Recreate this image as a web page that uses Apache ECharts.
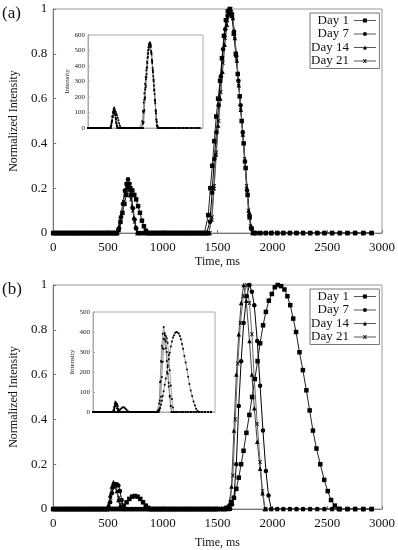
<!DOCTYPE html>
<html><head><meta charset="utf-8">
<script src="https://cdn.jsdelivr.net/npm/echarts@6/dist/echarts.min.js"></script>
<style>html,body{margin:0;padding:0;background:#fff}#c{width:398px;height:550px}</style>
</head><body><div id="c"></div>
<script>
const seriesNames = ['Day 1', 'Day 7', 'Day 14', 'Day 21'];
const xTicks = [0, 500, 1000, 1500, 2000, 2500, 3000];
// sampling times of the zero baseline (ms)
const baseTimes = [0,20,40,60,80,100,120,140,160,180,200,220,240,260,280,300,320,340,360,380,400,420,440,460,480,500,520,540,560,580,600,620,640,660,680,700,720,740,760,780,800,820,840,860,880,900,920,940,960,980,1000,1020,1040,1060,1080,1100,1120,1140,1160,1180,1200,1220,1240,1260,1280,1300,1320,1340,1360,1380,1400,1420,1440,1460,1480,1500,1535,1570,1605,1640,1680,1720,1760,1800,1845,1890,1940,1990,2045,2100,2160,2220,2280,2345,2410,2475,2545,2615,2685,2755,2830,2905];

// Panel (a) peaks [time ms, normalized intensity]
const aDay1Small = [[575,0],[596,0.013],[614,0.05],[632,0.09],[650,0.13],[668,0.17],[686,0.2],[704,0.2],[722,0.19],[740,0.17],[757,0.15],[775,0.12],[792,0.09],[810,0.055],[828,0.03],[846,0.01],[862,0]];
const aDay7Small = [[582,0],[600,0.02],[618,0.07],[636,0.13],[654,0.19],[668,0.22],[683,0.24],[698,0.22],[713,0.17],[728,0.11],[743,0.06],[758,0.02],[772,0]];
const aDay14Small = [[585,0],[603,0.03],[620,0.08],[638,0.14],[655,0.19],[672,0.22],[688,0.21],[704,0.17],[720,0.12],[736,0.07],[752,0.03],[768,0]];
const aDay21Small = [[588,0],[606,0.03],[624,0.08],[642,0.14],[660,0.18],[678,0.205],[694,0.19],[710,0.15],[726,0.1],[742,0.05],[758,0.02],[775,0]];
const aDay1Main = [[1395,0],[1415,0.08],[1434,0.2],[1452,0.3],[1470,0.41],[1488,0.52],[1505,0.6],[1523,0.68],[1540,0.78],[1558,0.88],[1576,0.95],[1594,0.99],[1612,1],[1630,0.97],[1648,0.89],[1666,0.8],[1684,0.71],[1702,0.61],[1720,0.5],[1738,0.4],[1756,0.29],[1774,0.17],[1792,0.07],[1810,0.02],[1825,0]];
const aDay7Main = [[1410,0],[1430,0.05],[1450,0.18],[1470,0.33],[1490,0.45],[1510,0.57],[1530,0.7],[1550,0.82],[1570,0.91],[1590,0.97],[1610,1],[1630,0.98],[1650,0.9],[1670,0.79],[1690,0.68],[1710,0.57],[1730,0.45],[1750,0.32],[1770,0.19],[1790,0.08],[1810,0.02],[1825,0]];
const aDay14Main = [[1425,0],[1445,0.06],[1465,0.2],[1485,0.35],[1505,0.48],[1525,0.6],[1545,0.72],[1565,0.84],[1585,0.93],[1605,0.98],[1622,1],[1640,0.96],[1658,0.87],[1676,0.77],[1694,0.66],[1712,0.55],[1730,0.44],[1748,0.32],[1766,0.2],[1784,0.1],[1802,0.03],[1820,0]];
const aDay21Main = [[1430,0],[1450,0.07],[1470,0.21],[1490,0.36],[1510,0.5],[1530,0.63],[1550,0.76],[1570,0.87],[1590,0.95],[1608,0.99],[1620,1],[1638,0.97],[1656,0.88],[1674,0.78],[1692,0.67],[1710,0.56],[1728,0.45],[1746,0.33],[1764,0.21],[1782,0.1],[1800,0.03],[1818,0]];
const aPeakIntensity = [548, 552, 545, 550];

// Panel (b) peaks [time ms, normalized intensity]
const bDay1Small = [[600,0],[620,0.005],[645,0.015],[670,0.03],[695,0.045],[720,0.055],[745,0.058],[770,0.055],[795,0.045],[820,0.03],[845,0.015],[865,0.005],[885,0]];
const bDay7Small = [[505,0],[520,0.03],[535,0.07],[550,0.1],[565,0.11],[580,0.11],[595,0.105],[610,0.08],[625,0.04],[640,0.01],[652,0]];
const bDay14Small = [[490,0],[505,0.02],[520,0.06],[535,0.1],[550,0.12],[565,0.11],[580,0.08],[595,0.04],[610,0.01],[622,0]];
const bDay21Small = [[495,0],[510,0.02],[525,0.05],[540,0.08],[555,0.1],[570,0.1],[585,0.08],[600,0.05],[615,0.02],[630,0]];
const bDay1Main = [[1555,0],[1580,0.005],[1604,0.01],[1627,0.03],[1649,0.05],[1671,0.09],[1693,0.14],[1715,0.2],[1737,0.26],[1763,0.34],[1790,0.42],[1815,0.5],[1840,0.58],[1865,0.66],[1888,0.74],[1915,0.82],[1941,0.88],[1968,0.93],[1995,0.96],[2022,0.99],[2048,1],[2080,0.995],[2110,0.98],[2137,0.95],[2163,0.91],[2190,0.85],[2216,0.79],[2247,0.7],[2278,0.62],[2310,0.53],[2340,0.44],[2370,0.35],[2402,0.27],[2437,0.2],[2473,0.13],[2505,0.08],[2535,0.04],[2570,0.015],[2606,0]];
const bDay7Main = [[1615,0],[1632,0.02],[1649,0.05],[1671,0.2],[1693,0.46],[1715,0.66],[1738,0.83],[1765,0.95],[1791,1],[1813,0.97],[1835,0.91],[1862,0.75],[1888,0.55],[1914,0.35],[1941,0.17],[1965,0.06],[1990,0]];
const bDay14Main = [[1585,0],[1604,0.02],[1627,0.1],[1649,0.35],[1671,0.6],[1693,0.78],[1715,0.92],[1738,1],[1762,0.93],[1791,0.75],[1813,0.6],[1835,0.45],[1862,0.3],[1888,0.18],[1910,0.07],[1930,0]];
const bDay21Main = [[1595,0],[1615,0.03],[1640,0.15],[1662,0.4],[1685,0.65],[1708,0.83],[1735,0.95],[1765,1],[1791,0.92],[1813,0.78],[1835,0.58],[1862,0.38],[1888,0.21],[1910,0.08],[1935,0]];
const bPeakIntensity = [400, 380, 425, 385];

const aInsetTicks = [0, 100, 200, 300, 400, 500, 600];
const bInsetTicks = [0, 100, 200, 300, 400, 500];

function build(peaks) {
  const ranges = peaks.map(p => [p[0][0], p[p.length - 1][0]]);
  const pts = baseTimes.filter(t => !ranges.some(r => t >= r[0] && t <= r[1])).map(t => [t, 0]);
  peaks.forEach(p => p.forEach(q => pts.push(q.slice())));
  pts.sort((u, v) => u[0] - v[0]);
  return pts;
}
function scale(data, k) { return data.map(d => [d[0], d[1] * k]); }

const aData = [build([aDay1Small, aDay1Main]), build([aDay7Small, aDay7Main]), build([aDay14Small, aDay14Main]), build([aDay21Small, aDay21Main])];
const bData = [build([bDay1Small, bDay1Main]), build([bDay7Small, bDay7Main]), build([bDay14Small, bDay14Main]), build([bDay21Small, bDay21Main])];

const FONT = '"Liberation Serif","DejaVu Serif",serif';
const xSym = 'path://M0,0L2.5,0L5,3.2L7.5,0L10,0L6.3,5L10,10L7.5,10L5,6.8L2.5,10L0,10L3.7,5Z';
const symbols = ['rect', 'circle', 'triangle', xSym];
const symSizes = [4.5, 4.5, 4.5, 4];
const lineColors = ['#222', '#000', '#444', '#666'];

const chart = echarts.init(document.getElementById('c'), null, {renderer: 'canvas'});

function mainGrid(top) {
  return {left: 48, top: top, width: 336, height: 224, show: true, borderColor: '#999', borderWidth: 1, backgroundColor: 'transparent'};
}
function insetGrid(left, top, w, h) {
  return {left: left, top: top, width: w, height: h, show: true, borderColor: '#aaa', borderWidth: 1, backgroundColor: '#fff'};
}
function mainX(gi, gap) {
  return {type: 'value', gridIndex: gi, min: 0, max: 3000, interval: 500,
    name: 'Time, ms', nameLocation: 'middle', nameGap: gap,
    nameTextStyle: {fontFamily: FONT, fontSize: 12, color: '#111'},
    axisLine: {lineStyle: {color: '#777', width: 1}},
    axisTick: {inside: true, length: 3, lineStyle: {color: '#777'}},
    axisLabel: {fontFamily: FONT, fontSize: 13, color: '#111', margin: 8, formatter: v => String(v)},
    splitLine: {show: false}};
}
function mainY(gi) {
  return {type: 'value', gridIndex: gi, min: 0, max: 1, interval: 0.2,
    name: 'Normalized Intensity', nameLocation: 'middle', nameGap: 32, nameRotate: 90,
    nameTextStyle: {fontFamily: FONT, fontSize: 12, color: '#111'},
    axisLine: {lineStyle: {color: '#777', width: 1}},
    axisTick: {inside: true, length: 3, lineStyle: {color: '#777'}},
    axisLabel: {fontFamily: FONT, fontSize: 13, color: '#111', margin: 6},
    splitLine: {show: false}};
}
function insetX(gi) {
  return {type: 'value', gridIndex: gi, min: 0, max: 3000, interval: 500,
    axisLine: {lineStyle: {color: '#aaa', width: 1}}, axisTick: {show: false},
    axisLabel: {show: false}, splitLine: {show: false}};
}
function insetY(gi, max, ticks) {
  return {type: 'value', gridIndex: gi, min: 0, max: max, interval: 100,
    name: 'Intensity', nameLocation: 'middle', nameGap: 17, nameRotate: 90,
    nameTextStyle: {fontFamily: FONT, fontSize: 7, color: '#222'},
    axisLine: {lineStyle: {color: '#aaa', width: 1}},
    axisTick: {inside: true, length: 2, lineStyle: {color: '#aaa'}},
    axisLabel: {fontFamily: FONT, fontSize: 7, color: '#222', margin: 3,
      customValues: ticks},
    splitLine: {show: false}};
}

const series = [];
seriesNames.forEach((n, i) => series.push({
  name: n, type: 'line', xAxisIndex: 0, yAxisIndex: 0, data: aData[i],
  symbol: symbols[i], symbolSize: symSizes[i], showAllSymbol: true,
  lineStyle: {color: lineColors[i], width: 1}, itemStyle: {color: '#000'},
  animation: false, z: 3}));
seriesNames.forEach((n, i) => series.push({
  name: n, type: 'line', xAxisIndex: 2, yAxisIndex: 2, data: bData[i],
  symbol: symbols[i], symbolSize: symSizes[i], showAllSymbol: true,
  lineStyle: {color: lineColors[i], width: 1}, itemStyle: {color: '#000'},
  animation: false, z: 3}));
seriesNames.forEach((n, i) => series.push({
  name: n, type: 'line', xAxisIndex: 1, yAxisIndex: 1, data: scale(aData[i], aPeakIntensity[i]),
  symbol: 'circle', symbolSize: 2, showAllSymbol: true,
  lineStyle: {color: '#888', width: 0.8}, itemStyle: {color: '#000'},
  animation: false, z: 5}));
seriesNames.forEach((n, i) => series.push({
  name: n, type: 'line', xAxisIndex: 3, yAxisIndex: 3, data: scale(bData[i], bPeakIntensity[i]),
  symbol: 'circle', symbolSize: 2, showAllSymbol: true,
  lineStyle: {color: '#888', width: 0.8}, itemStyle: {color: '#000'},
  animation: false, z: 5}));

function legend(top) {
  return {data: seriesNames, orient: 'vertical', align: 'right', left: 310, top: top,
    padding: [1, 3, 1, 1], itemGap: 0.5, itemWidth: 22, itemHeight: 5,
    lineStyle: {color: '#555', width: 1},
    borderColor: '#777', borderWidth: 1, backgroundColor: '#fff', selectedMode: false,
    textStyle: {fontFamily: FONT, fontSize: 13, color: '#111', lineHeight: 13, padding: [0, 0, 0, 0]}};
}

chart.setOption({
  animation: false,
  backgroundColor: '#fff',
  grid: [mainGrid(9), insetGrid(88, 35, 115, 93), mainGrid(285), insetGrid(93, 312, 122, 100)],
  xAxis: [mainX(0, 23), insetX(1), mainX(2, 28), insetX(3)],
  yAxis: [mainY(0), insetY(1, 600, aInsetTicks), mainY(2), insetY(3, 500, bInsetTicks)],
  legend: [legend(13), legend(289)],
  graphic: [
    {type: 'text', left: 2, top: 5, style: {text: '(a)', font: '17px "Liberation Serif", serif', fill: '#111'}},
    {type: 'text', left: 2, top: 281, style: {text: '(b)', font: '17px "Liberation Serif", serif', fill: '#111'}}
  ],
  series: series
});
</script></body></html>
